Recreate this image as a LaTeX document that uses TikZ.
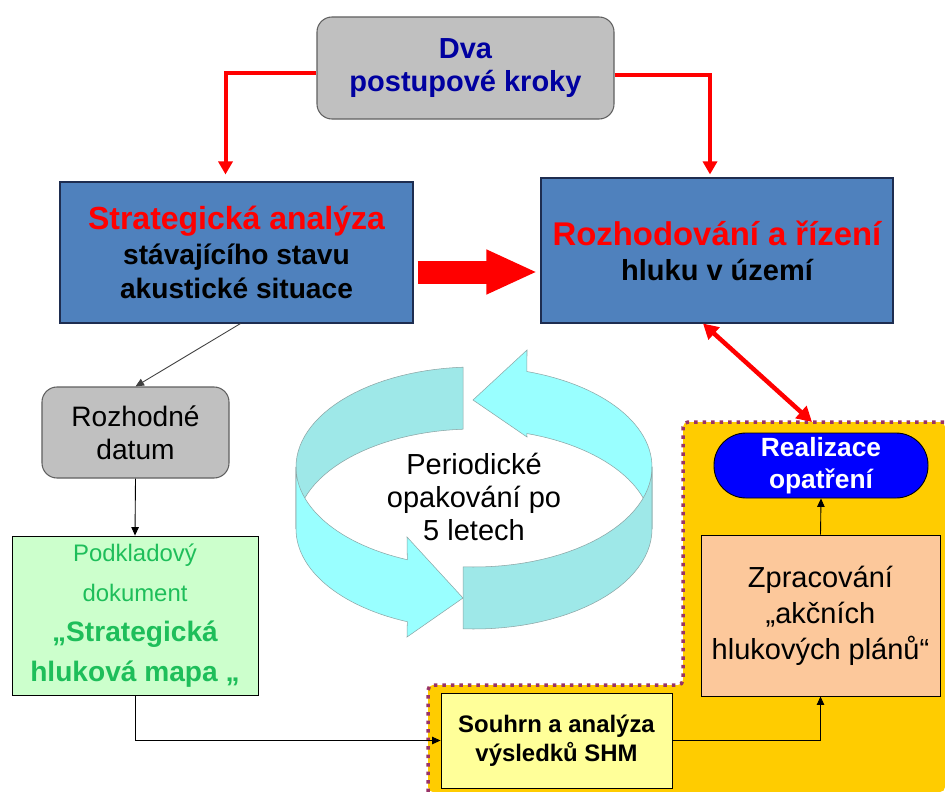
\documentclass[tikz,border=0pt]{standalone}
\usepackage{fontspec}
\setmainfont{Liberation Sans}
\usepackage{tikz}
\usetikzlibrary{arrows.meta, positioning}

\definecolor{dvablue}{RGB}{0,0,160}
\definecolor{boxblue}{RGB}{79,129,189}
\definecolor{boxedge}{RGB}{30,45,80}
\definecolor{graybg}{RGB}{192,192,192}
\definecolor{grayedge}{RGB}{96,96,96}
\definecolor{mapfill}{RGB}{204,255,204}
\definecolor{mapgreen}{RGB}{30,190,90}
\definecolor{zonefill}{RGB}{255,204,0}
\definecolor{zoneedge}{RGB}{153,51,102}
\definecolor{planfill}{RGB}{252,200,155}
\definecolor{sumfill}{RGB}{255,255,153}
\definecolor{cyclelight}{RGB}{153,255,255}
\definecolor{cycledark}{RGB}{158,232,232}
\definecolor{cycleedge}{RGB}{140,165,165}

\begin{document}
\begin{tikzpicture}[x=0.2mm, y=-0.2mm,
  bluebox/.style={rectangle, draw=boxedge, line width=0.6pt, fill=boxblue, align=center, inner sep=0pt},
  graybox/.style={rectangle, rounded corners=3mm, draw=grayedge, line width=0.6pt, fill=graybg, align=center, inner sep=0pt},
  plainbox/.style={rectangle, draw=black, line width=0.5pt, align=center, inner sep=0pt},
  redlink/.style={draw=red, line width=0.8mm, arrows={-Triangle[width=2.8mm,length=2.6mm]}},
  redboth/.style={draw=red, line width=0.9mm, arrows={Triangle[width=3.2mm,length=3mm]-Triangle[width=3.2mm,length=3mm]}},
  thinlink/.style={draw=black, line width=0.5pt, arrows={-Triangle[width=1.5mm,length=1.7mm]}},
  ribbon/.style={draw=cycleedge, line width=0.3pt}]
\useasboundingbox (0,0) rectangle (945,792);
\fill[white] (0,0) rectangle (945,792);

% yellow zone with dotted edge
\fill[zonefill, rounded corners=1mm] (428,792) -- (428,685) -- (683,685) -- (683,422) -- (945,422) -- (945,792) -- cycle;
\draw[zoneedge, line width=0.7mm, dash pattern=on 0.7mm off 1mm, rounded corners=1mm] (428,792) -- (428,685) -- (683,685) -- (683,422) -- (945,422);
\coordinate (zonetop) at (812,422);

% boxes
\node[graybox, minimum width=59.4mm, minimum height=20.4mm, text=dvablue, font=\fontsize{16.5}{18.7}\selectfont\bfseries] (dva) at (465.5,68) {Dva\\postupové kroky};
\node[bluebox, minimum width=70.6mm, minimum height=28.2mm, font=\fontsize{16}{19.8}\selectfont\bfseries] (strat) at (236.5,252.5) {{\color{red}\fontsize{18.2}{19.8}\selectfont Strategická analýza}\\stávajícího stavu\\akustické situace};
\node[bluebox, minimum width=70.4mm, minimum height=29mm, font=\fontsize{16.5}{19.8}\selectfont\bfseries] (rozh) at (717,250.5) {{\color{red}\fontsize{18.7}{19.8}\selectfont Rozhodování a řízení}\\hluku v území};
\node[graybox, minimum width=37.4mm, minimum height=18.2mm, font=\fontsize{16}{18.7}\selectfont] (datum) at (135.5,432.5) {Rozhodné\\datum};
\node[plainbox, fill=mapfill, minimum width=49.2mm, minimum height=31.8mm, text=mapgreen, font=\fontsize{16}{22.7}\selectfont] (podklad) at (135,615.5) {{\fontsize{13.6}{22.7}\selectfont Podkladový}\\{\fontsize{13.6}{22.7}\selectfont dokument}\\{\bfseries „Strategická}\\{\bfseries hluková mapa „}};
\node[plainbox, fill=sumfill, minimum width=46.2mm, minimum height=19mm, font=\fontsize{13.6}{16.4}\selectfont\bfseries] (souhrn) at (556.5,740.5) {Souhrn a analýza\\výsledků SHM};
\node[plainbox, fill=planfill, minimum width=47.8mm, minimum height=32.2mm, font=\fontsize{16.5}{20.4}\selectfont] (zprac) at (820.5,615.5) {Zpracování\\„akčních\\hlukových plánů“};
\node[plainbox, fill=blue, rounded corners=6.4mm, minimum width=42.8mm, minimum height=13mm, text=white, font=\fontsize{15}{18}\selectfont\bfseries] (real) at (821,465.5) {Realizace\\opatření};

% cycle ribbon
\filldraw[ribbon, fill=cycledark] plot[domain=93.5:180, samples=30] ({474+178*cos(\x)},{467-100*sin(\x)}) -- plot[domain=180:93.5, samples=30] ({474+178*cos(\x)},{529-100*sin(\x)}) -- cycle;
\filldraw[ribbon, fill=cyclelight] plot[domain=0:72.7, samples=30] ({474+178*cos(\x)},{467-100*sin(\x)}) -- (527,350) -- (473,400) -- (527,437) -- plot[domain=72.7:0, samples=30] ({474+178*cos(\x)},{529-100*sin(\x)}) -- cycle;
\filldraw[ribbon, fill=cyclelight] plot[domain=180:248, samples=30] ({474+178*cos(\x)},{467-100*sin(\x)}) -- (407,537) -- (463,598) -- (407,637) -- plot[domain=248:180, samples=30] ({474+178*cos(\x)},{529-100*sin(\x)}) -- cycle;
\filldraw[ribbon, fill=cycledark] plot[domain=266.5:360, samples=30] ({474+178*cos(\x)},{467-100*sin(\x)}) -- plot[domain=360:266.5, samples=30] ({474+178*cos(\x)},{529-100*sin(\x)}) -- cycle;
\node[align=center, font=\fontsize{16.5}{18.7}\selectfont] (period) at (474,497) {Periodické\\opakování po\\5 letech};

% connectors
\draw[redlink] ([yshift=-1mm]dva.west) -| ([xshift=-2.2mm, yshift=1.4mm]strat.north);
\draw[redlink] ([yshift=-1.4mm]dva.east) -| ([xshift=-1.4mm, yshift=0.6mm]rozh.north);
\draw[red, line width=4.6mm, arrows={-Triangle[width=8.2mm,length=10.2mm]}, shorten <=0.8mm, shorten >=0.6mm] (strat.east |- 0,272) -- (rozh.west |- 0,272);
\draw[redboth] ([xshift=-2.8mm]rozh.south) -- (zonetop);
\draw[thinlink, draw=black!75] ([xshift=0.8mm]strat.south) -- (datum.north);
\draw[thinlink] (datum.south) -- (podklad.north);
\draw[thinlink] (podklad.south) |- (souhrn.west);
\draw[thinlink] (souhrn.east) -| (zprac.south);
\draw[thinlink] (zprac.north) -- (real.south);
\end{tikzpicture}
\end{document}
